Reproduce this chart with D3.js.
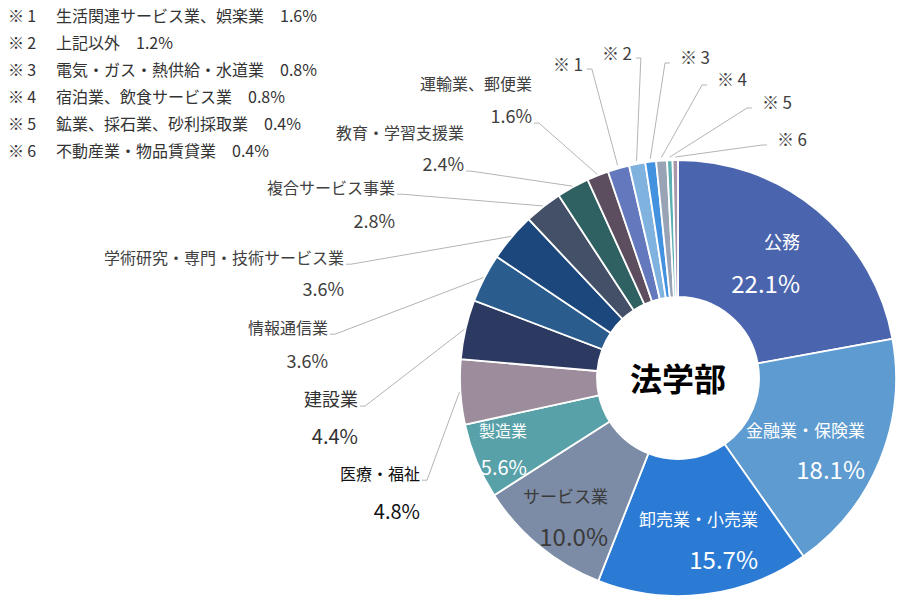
<!DOCTYPE html>
<html>
<head>
<meta charset="utf-8">
<script src="https://cdn.jsdelivr.net/npm/d3@7"></script>
<style>
  body { margin: 0; background: #fff; }
  svg { font-family: "Noto Sans CJK JP", "Noto Sans", sans-serif; }
</style>
</head>
<body>
<div id="chart"></div>
<script>
'use strict';

// data, clockwise from 12 o'clock
const categories = ['公務', '金融業・保険業', '卸売業・小売業', 'サービス業', '製造業',
  '医療・福祉', '建設業', '情報通信業', '学術研究・専門・技術サービス業', '複合サービス事業',
  '教育・学習支援業', '運輸業、郵便業', '生活関連サービス業、娯楽業', '上記以外',
  '電気・ガス・熱供給・水道業', '宿泊業、飲食サービス業', '鉱業、採石業、砂利採取業',
  '不動産業・物品賃貸業'];
const shares = [22.1, 18.1, 15.7, 10.0, 5.6, 4.8, 4.4, 3.6, 3.6, 2.8, 2.4, 1.6,
  1.6, 1.2, 0.8, 0.8, 0.4, 0.4];
// the last six categories are footnoted
const noteMarks = ['※\u20091', '※\u20092', '※\u20093', '※\u20094', '※\u20095', '※\u20096'];
const centerTitle = '法学部';

const palette = ['#4a64ad', '#5e9bd0', '#2b7bd5', '#7d8ca6', '#58a1a9', '#9d8c9c',
  '#2c3a62', '#2a5d8d', '#1b477c', '#435067', '#2f6163', '#5c4e5f', '#6479bd',
  '#80b2e0', '#4392e0', '#98a3b6', '#5bb0b4', '#a998aa'];

// label layout (right edge, name centre, value centre)
const insideLabels = {
  '公務':           { x: 800, y1: 241, y2: 282, fs1: 18, fs2: 24, color: '#fff' },
  '金融業・保険業': { x: 865, y1: 429, y2: 468, fs1: 17, fs2: 24, color: '#fff' },
  '卸売業・小売業': { x: 758, y1: 518, y2: 558, fs1: 17, fs2: 24, color: '#fff' },
  'サービス業':     { x: 608, y1: 495, y2: 535, fs1: 17, fs2: 24, color: '#3a3a3a' },
  '製造業':         { x: 527, y1: 430, y2: 466, fs1: 16, fs2: 20, color: '#fff' }
};
const outsideLabels = {
  '運輸業、郵便業':   { x: 532, y1: 83,  y2: 115, fs1: 16, fs2: 18, lead: 'value', color: '#404040' },
  '教育・学習支援業': { x: 464, y1: 132, y2: 163, fs1: 16, fs2: 18, lead: 'value', color: '#404040' },
  '複合サービス事業': { x: 395, y1: 187, y2: 220, fs1: 16, fs2: 18, lead: 'name', color: '#404040' },
  '学術研究・専門・技術サービス業': { x: 344, y1: 257, y2: 288, fs1: 16, fs2: 18, lead: 'name', color: '#404040' },
  '情報通信業':       { x: 328, y1: 327, y2: 360, fs1: 16, fs2: 18, lead: 'name', color: '#404040' },
  '建設業':           { x: 358, y1: 398, y2: 435, fs1: 18, fs2: 20, lead: 'name', color: '#333' },
  '医療・福祉':       { x: 420, y1: 473, y2: 510, fs1: 16, fs2: 20, lead: 'name', color: '#111' }
};
const noteLabels = [
  { x: 553, y: 63,  side: 'right' },
  { x: 602, y: 52,  side: 'right' },
  { x: 680, y: 56,  side: 'left' },
  { x: 717, y: 78,  side: 'left' },
  { x: 762, y: 101, side: 'left' },
  { x: 777, y: 138, side: 'left' }
];

const width = 900;
const height = 600;
const cx = 678;
const cy = 378;
const outerRadius = 218;
const innerRadius = 81;
const leaderColor = '#b4b4b4';

const fmt = (v) => v.toFixed(1) + '%';

const svg = d3.select('#chart').append('svg')
  .attr('width', width)
  .attr('height', height);

const color = d3.scaleOrdinal()
  .domain(categories)
  .range(palette);

const rows = categories.map((c, i) => ({ name: c, value: shares[i], index: i }));

const pie = d3.pie()
  .sort(null)
  .value((d) => d.value);
const arcs = pie(rows);

const arc = d3.arc()
  .innerRadius(innerRadius)
  .outerRadius(outerRadius);

const plot = svg.append('g')
  .attr('transform', `translate(${cx},${cy})`);

plot.selectAll('path')
  .data(arcs)
  .enter().append('path')
    .attr('d', arc)
    .attr('fill', (d) => color(d.data.name))
    .attr('stroke', '#fff')
    .attr('stroke-width', 1.8);

plot.append('text')
  .attr('text-anchor', 'middle')
  .attr('dominant-baseline', 'central')
  .attr('y', -1)
  .attr('font-size', 32)
  .attr('font-weight', 'bold')
  .attr('fill', '#000')
  .text(centerTitle);

// point on the outer rim at the middle of a slice, in page coordinates
function rimPoint(d, extra) {
  const a = (d.startAngle + d.endAngle) / 2;
  const r = outerRadius + extra;
  return [cx + r * Math.sin(a), cy - r * Math.cos(a)];
}

// labels inside slices
arcs.filter((d) => insideLabels[d.data.name]).forEach((d) => {
  const l = insideLabels[d.data.name];
  const g = svg.append('g')
    .attr('text-anchor', 'end')
    .attr('dominant-baseline', 'central')
    .attr('fill', l.color);
  g.append('text').attr('x', l.x).attr('y', l.y1).attr('font-size', l.fs1).text(d.data.name);
  g.append('text').attr('x', l.x).attr('y', l.y2).attr('font-size', l.fs2).text(fmt(d.data.value));
});

// labels outside with leader lines
const leaders = svg.append('g')
  .attr('fill', 'none')
  .attr('stroke', leaderColor)
  .attr('stroke-width', 1);

arcs.filter((d) => outsideLabels[d.data.name]).forEach((d) => {
  const l = outsideLabels[d.data.name];
  const g = svg.append('g')
    .attr('text-anchor', 'end')
    .attr('dominant-baseline', 'central')
    .attr('fill', l.color);
  g.append('text').attr('x', l.x).attr('y', l.y1).attr('font-size', l.fs1).text(d.data.name);
  g.append('text').attr('x', l.x).attr('y', l.y2).attr('font-size', l.fs2).text(fmt(d.data.value));

  const ly = l.lead === 'value' ? l.y2 + l.fs2 * 0.45 : l.y1 + l.fs1 * 0.45;
  const end = rimPoint(d, 1);
  leaders.append('path')
    .attr('d', d3.line()([[l.x + 2, ly], [l.x + 7, ly], end]));
});

// footnoted small slices
const noted = arcs.slice(arcs.length - noteMarks.length);
noted.forEach((d, i) => {
  const l = noteLabels[i];
  const t = svg.append('text')
    .attr('x', l.x)
    .attr('y', l.y)
    .attr('dominant-baseline', 'central')
    .attr('font-size', 17)
    .attr('fill', '#404040')
    .text(noteMarks[i]);
  const w = t.node().getComputedTextLength();
  const ly = l.y + 6;
  const end = rimPoint(d, 3);
  let pts;
  if (l.side === 'right') {
    pts = [[l.x + w + 4, ly], [l.x + w + 9, ly], end];
  } else {
    pts = [[l.x - 10, ly + 1], [l.x - 15, ly + 1], end];
  }
  leaders.append('path').attr('d', d3.line()(pts));
});

// footnote legend, top left
const legend = svg.append('g')
  .attr('font-size', 16)
  .attr('fill', '#333');

noted.forEach((d, i) => {
  const y = 15 + i * 27;
  const t = legend.append('text')
    .attr('y', y)
    .attr('dominant-baseline', 'central');
  t.append('tspan').attr('x', 8).text(noteMarks[i]);
  t.append('tspan').attr('x', 56).text(d.data.name);
  t.append('tspan').attr('dx', 16).text(fmt(d.data.value));
});
</script>
</body>
</html>
